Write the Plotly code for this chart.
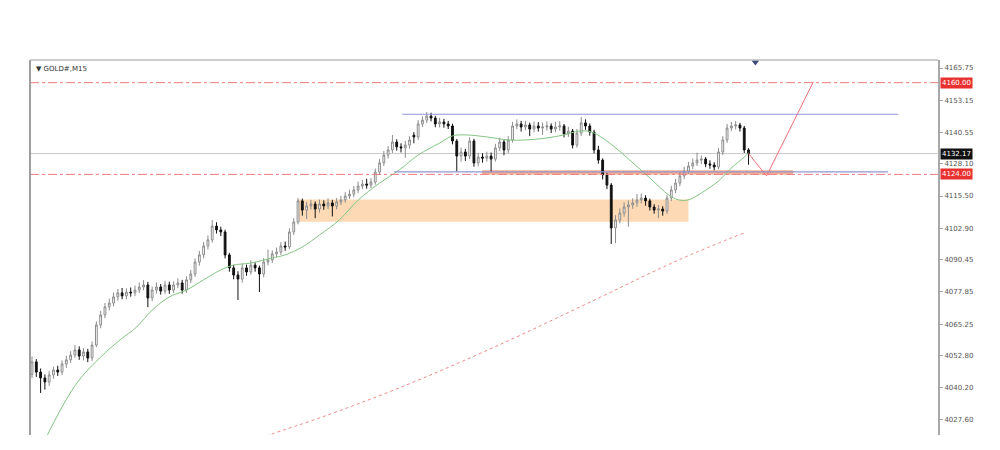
import plotly.graph_objects as go

# ---------------- data ----------------
opens = [4045.5,4050.4,4046.4,4044.1,4042.5,4045.3,4047.2,4046.4,4049.6,4051.2,
         4053.1,4055.1,4052.7,4054.3,4051.9,4057.0,4064.9,4068.8,4072.0,4073.5,
         4075.9,4077.5,4076.3,4077.8,4077.5,4078.6,4079.8,4080.6,4075.5,4078.6,
         4079.8,4078.2,4080.6,4078.6,4080.6,4081.4,4078.6,4082.6,4084.9,4089.6,
         4092.4,4095.9,4098.3,4103.7,4102.2,4101.4,4092.4,4087.3,4084.5,4082.9,
         4087.3,4085.7,4088.4,4087.3,4084.9,4089.6,4090.4,4092.8,4093.5,4095.9,
         4095.5,4101.4,4105.3,4113.6,4110.0,4111.6,4112.4,4110.4,4112.4,4111.6,
         4112.8,4111.6,4113.2,4114.0,4115.5,4116.3,4117.9,4119.4,4120.2,4119.8,
         4121.0,4124.9,4128.5,4131.6,4133.6,4136.7,4134.8,4134.4,4135.5,4139.4,
         4138.7,4143.8,4145.3,4146.9,4146.1,4143.8,4144.6,4143.8,4143.0,4137.1,
         4131.2,4132.8,4131.2,4137.1,4128.5,4130.8,4130.4,4131.2,4130.0,4134.4,
         4136.7,4133.6,4137.5,4143.0,4143.8,4142.6,4143.4,4141.8,4143.0,4142.2,
         4142.6,4143.0,4141.8,4142.6,4143.0,4139.9,4141.0,4135.5,4140.2,4144.2,
         4143.0,4140.6,4133.6,4129.6,4123.8,4119.8,4103.0,4106.1,4108.8,4111.2,
         4112.0,4112.8,4114.0,4114.7,4113.6,4111.2,4110.0,4110.4,4109.6,4114.7,
         4117.9,4120.6,4123.4,4125.3,4127.3,4128.5,4129.6,4130.0,4128.1,4127.7,
         4126.9,4132.8,4137.5,4142.2,4143.0,4143.4,4142.2,4133.6]
highs = [4052.5,4051.5,4047.8,4045.5,4046.8,4048.6,4048.9,4051.0,4052.8,4054.6,
         4057.0,4056.5,4055.8,4055.5,4058.4,4066.3,4070.4,4073.5,4075.2,4077.6,
         4079.0,4079.4,4079.3,4079.6,4080.4,4081.5,4082.5,4081.8,4080.0,4081.6,
         4081.0,4082.2,4081.9,4082.0,4083.2,4082.6,4084.0,4086.5,4091.0,4094.0,
         4097.5,4100.0,4106.1,4105.2,4103.5,4102.3,4093.2,4088.5,4086.0,4089.0,
         4088.6,4090.3,4089.5,4088.2,4091.2,4094.5,4094.2,4095.3,4097.4,4097.6,
         4102.8,4106.8,4114.8,4114.5,4113.2,4114.0,4113.4,4114.1,4113.8,4114.6,
         4114.0,4114.7,4115.6,4117.0,4118.0,4119.4,4121.2,4121.8,4122.3,4122.5,
         4126.3,4130.0,4133.2,4135.1,4139.5,4137.8,4136.2,4137.2,4139.0,4140.6,
         4145.3,4146.8,4148.5,4148.2,4147.0,4146.2,4145.8,4145.0,4143.9,4137.9,
         4134.5,4134.0,4138.6,4138.0,4132.5,4132.3,4132.9,4132.6,4136.0,4138.4,
         4137.6,4139.0,4144.6,4145.6,4145.0,4145.0,4144.3,4144.7,4144.5,4144.3,
         4144.8,4144.0,4144.6,4144.9,4143.8,4142.7,4141.8,4141.8,4146.5,4145.6,
         4144.0,4141.5,4135.2,4130.3,4124.6,4120.6,4108.0,4110.6,4113.0,4113.8,
         4114.6,4116.3,4116.5,4115.8,4114.5,4112.3,4112.0,4111.5,4116.0,4119.5,
         4122.2,4125.0,4127.0,4128.9,4130.2,4132.5,4131.4,4130.8,4129.5,4128.8,
         4134.3,4139.0,4143.8,4144.6,4144.9,4144.2,4143.0,4134.3]
lows = [4044.0,4044.5,4038.2,4039.5,4041.0,4043.8,4044.9,4045.2,4048.0,4050.0,
        4052.0,4051.2,4051.0,4050.3,4050.8,4056.2,4063.6,4067.5,4070.6,4072.2,
        4074.4,4075.0,4074.9,4076.0,4076.2,4077.4,4078.5,4071.9,4074.2,4077.2,
        4076.8,4077.0,4077.1,4077.4,4079.3,4077.2,4077.5,4081.3,4083.8,4088.2,
        4091.0,4094.5,4097.2,4100.8,4099.8,4091.0,4085.8,4082.8,4074.7,4081.5,
        4084.2,4084.6,4085.8,4077.8,4083.6,4088.3,4089.2,4091.5,4092.4,4094.0,
        4094.6,4100.2,4104.4,4107.8,4106.5,4110.2,4106.8,4109.0,4110.1,4110.4,
        4107.5,4110.3,4112.0,4112.9,4114.4,4115.0,4116.6,4118.2,4118.4,4118.6,
        4120.0,4123.7,4127.3,4130.2,4132.4,4133.3,4132.6,4130.5,4134.1,4136.2,
        4137.6,4142.6,4144.2,4144.8,4142.5,4142.4,4142.3,4141.8,4135.8,4125.2,
        4129.0,4129.3,4130.0,4127.0,4127.2,4128.6,4129.0,4125.0,4129.0,4133.2,
        4131.5,4132.4,4136.5,4141.8,4140.8,4141.3,4139.0,4140.5,4140.8,4139.5,
        4141.2,4140.2,4140.5,4141.2,4138.5,4138.7,4134.2,4134.5,4139.0,4141.5,
        4139.2,4132.2,4128.2,4122.0,4118.2,4096.7,4097.0,4104.8,4107.4,4103.5,
        4110.5,4111.3,4112.6,4111.7,4109.8,4108.6,4106.8,4107.8,4108.5,4113.5,
        4116.6,4119.4,4122.2,4124.2,4126.0,4127.3,4128.0,4126.8,4126.2,4125.6,
        4126.0,4131.6,4136.4,4141.0,4141.6,4140.8,4132.4,4127.8]
closes = [4050.4,4046.4,4044.1,4042.5,4045.3,4047.2,4046.4,4049.6,4051.2,4053.1,
          4055.1,4052.7,4054.3,4051.9,4057.0,4064.9,4068.8,4072.0,4073.5,4075.9,
          4077.5,4076.3,4077.8,4077.5,4078.6,4079.8,4080.6,4075.5,4078.6,4079.8,
          4078.2,4080.6,4078.6,4080.6,4081.4,4078.6,4082.6,4084.9,4089.6,4092.4,
          4095.9,4098.3,4103.7,4102.2,4101.4,4092.4,4087.3,4084.5,4082.9,4087.3,
          4085.7,4088.4,4087.3,4084.9,4089.6,4090.4,4092.8,4093.5,4095.9,4095.5,
          4101.4,4105.3,4113.6,4110.0,4111.6,4112.4,4110.4,4112.4,4111.6,4112.8,
          4111.6,4113.2,4114.0,4115.5,4116.3,4117.9,4119.4,4120.2,4119.8,4121.0,
          4124.9,4128.5,4131.6,4133.6,4136.7,4134.8,4134.4,4135.5,4137.5,4138.7,
          4143.8,4145.3,4146.9,4146.1,4143.8,4144.6,4143.8,4143.0,4137.1,4131.2,
          4132.8,4131.2,4137.1,4128.5,4130.8,4130.4,4131.2,4130.0,4134.4,4136.7,
          4133.6,4137.5,4143.0,4143.8,4142.6,4143.4,4141.8,4143.0,4142.2,4142.6,
          4143.0,4141.8,4142.6,4143.0,4139.9,4141.0,4135.5,4140.2,4144.2,4143.0,
          4140.6,4133.6,4129.6,4123.8,4119.8,4103.0,4106.1,4108.8,4111.2,4112.0,
          4112.8,4114.0,4114.7,4113.6,4111.2,4110.0,4110.4,4109.6,4114.7,4117.9,
          4120.6,4123.4,4125.3,4127.3,4128.5,4129.6,4130.0,4128.1,4127.7,4126.9,
          4132.8,4137.5,4142.2,4143.0,4143.4,4142.2,4133.6,4132.17]
bar_index = list(range(len(closes)))

# fast moving average (green), read at sample bars
ma_fast_x = [3, 7, 11, 16, 20.5, 24.4, 28, 32, 36, 40, 44, 47, 51, 56, 59, 63, 67,
             71.6, 76, 81, 85.6, 90, 95, 98, 101, 106, 111, 115, 120, 124, 127.5,
             130.5, 134.6, 139.8, 144.5, 148.4, 150.7, 153, 156, 160, 163, 166, 167]
ma_fast_y = [4019.7, 4032.7, 4043.3, 4052.3, 4059.0, 4064.1, 4070.7, 4075.9, 4078.6,
             4082.6, 4086.5, 4088.4, 4089.2, 4091.2, 4092.4, 4095.5, 4100.2, 4106.1,
             4113.9, 4120.6, 4125.7, 4131.6, 4136.3, 4139.1, 4139.5, 4138.7, 4137.5,
             4137.5, 4138.3, 4139.5, 4141.0, 4140.6, 4136.3, 4128.9, 4121.8, 4115.9,
             4114.0, 4114.0, 4116.7, 4121.4, 4126.5, 4130.8, 4132.4]
# slow moving average (red dotted)
ma_slow_x = [50.7, 55.3, 67, 85.6, 108.8, 132.1, 150.7, 166.5]
ma_slow_y = [4018.6, 4021.7, 4028.4, 4040.2, 4057.0, 4075.5, 4090.4, 4101.4]

# levels and drawn objects
red_levels = [4160.00, 4124.00]
bid_price = 4132.17
resistance = {"y": 4147.6, "x0": 86.3, "x1": 201.9}
support = {"y": 4125.0, "x0": 84.4, "x1": 199.5}
demand_zone = {"x0": 61.9, "x1": 153.0, "y0": 4105.4, "y1": 4114.1}
thin_zone = {"x0": 104.9, "x1": 177.4, "y0": 4124.0, "y1": 4125.6}
path_x = [167, 171.2, 182.1]
path_y = [4132.17, 4123.4, 4160.3]
marker_x = [168.6]
marker_y = [4168.1]

tick_vals = [4165.75, 4153.15, 4140.55, 4128.10, 4115.50, 4102.90, 4090.45,
             4077.85, 4065.25, 4052.80, 4040.20, 4027.60]
tick_text = ["%.2f" % v for v in tick_vals]

# ---------------- figure ----------------
fig = go.Figure()

fig.add_trace(go.Candlestick(
    x=bar_index, open=opens, high=highs, low=lows, close=closes,
    increasing=dict(fillcolor="white", line=dict(color="#8c8c8c", width=1)),
    decreasing=dict(fillcolor="#111111", line=dict(color="#111111", width=1)),
    hoverinfo="skip", showlegend=False))

fig.add_trace(go.Scatter(x=ma_fast_x, y=ma_fast_y, mode="lines",
                         line=dict(color="#84c484", width=1, shape="spline"),
                         hoverinfo="skip", showlegend=False))
fig.add_trace(go.Scatter(x=ma_slow_x, y=ma_slow_y, mode="lines",
                         line=dict(color="#f08a8a", width=1, dash="dot", shape="spline"),
                         hoverinfo="skip", showlegend=False))
fig.add_trace(go.Scatter(x=path_x, y=path_y, mode="lines",
                         line=dict(color="#ee6b78", width=1),
                         hoverinfo="skip", showlegend=False))
fig.add_trace(go.Scatter(x=marker_x, y=marker_y, mode="markers",
                         marker=dict(symbol="triangle-down", size=7, color="#3c4a78"),
                         cliponaxis=False, hoverinfo="skip", showlegend=False))

shapes = []
# zones (below candles)
shapes.append(dict(type="rect", xref="x", yref="y", layer="below",
                   x0=demand_zone["x0"], x1=demand_zone["x1"],
                   y0=demand_zone["y0"], y1=demand_zone["y1"],
                   fillcolor="#fdd9b5", line=dict(width=0)))
shapes.append(dict(type="rect", xref="x", yref="y", layer="below",
                   x0=thin_zone["x0"], x1=thin_zone["x1"],
                   y0=thin_zone["y0"], y1=thin_zone["y1"],
                   fillcolor="#f6b08c", line=dict(width=0)))
# bid line
shapes.append(dict(type="line", xref="paper", yref="y", x0=0, x1=1,
                   y0=bid_price, y1=bid_price, layer="below",
                   line=dict(color="#c8c8c8", width=1)))
# red dash-dot levels
for lv in red_levels:
    shapes.append(dict(type="line", xref="paper", yref="y", x0=0, x1=1,
                       y0=lv, y1=lv, line=dict(color="#ef7b7b", width=1, dash="dashdot")))
# resistance / support lines
for ln in (resistance, support):
    shapes.append(dict(type="line", xref="x", yref="y", x0=ln["x0"], x1=ln["x1"],
                       y0=ln["y"], y1=ln["y"], line=dict(color="#8f95d6", width=1.2)))
# frame: left and top borders
shapes.append(dict(type="line", xref="paper", yref="paper", x0=0, x1=0, y0=0, y1=1,
                   line=dict(color="#9e9e9e", width=2)))
shapes.append(dict(type="line", xref="paper", yref="paper", x0=0, x1=1, y0=1, y1=1,
                   line=dict(color="#bdbdbd", width=1.5)))

annotations = [
    dict(text="▼ GOLD#,M15", xref="paper", yref="paper", x=0, y=1, xshift=4, yshift=-3,
         xanchor="left", yanchor="top", showarrow=False,
         font=dict(family="DejaVu Sans", size=7, color="#333333")),
]
for lv in red_levels:
    annotations.append(dict(text="%.2f" % lv, xref="paper", yref="y", x=1, y=lv,
                            xshift=2, xanchor="left", yanchor="middle", showarrow=False,
                            bgcolor="#e8302f", borderpad=1,
                            font=dict(family="DejaVu Sans", size=7, color="white")))
annotations.append(dict(text="%.2f" % bid_price, xref="paper", yref="y", x=1, y=bid_price,
                        xshift=2, xanchor="left", yanchor="middle", showarrow=False,
                        bgcolor="#111111", borderpad=1,
                        font=dict(family="DejaVu Sans", size=7, color="white")))

fig.update_layout(
    width=1000, height=450,
    margin=dict(l=30, r=62, t=60, b=15),
    paper_bgcolor="white", plot_bgcolor="white",
    boxgap=0.4,
    shapes=shapes, annotations=annotations,
    xaxis=dict(range=[-0.47, 211.16], showgrid=False, zeroline=False, showline=False,
               showticklabels=False, ticks="", rangeslider=dict(visible=False)),
    yaxis=dict(range=[4021.7, 4168.9], side="right", showgrid=False, zeroline=False,
               showline=True, linecolor="#a8a8a8", linewidth=2,
               tickvals=tick_vals, ticktext=tick_text, ticks="outside", ticklen=3,
               tickcolor="#a8a8a8",
               tickfont=dict(family="DejaVu Sans", size=7, color="#555555")),
)

fig.write_html("out.html",
               config={"displayModeBar": False},
               post_script="document.body.style.margin='0';"
                           "document.body.style.overflow='hidden';")
